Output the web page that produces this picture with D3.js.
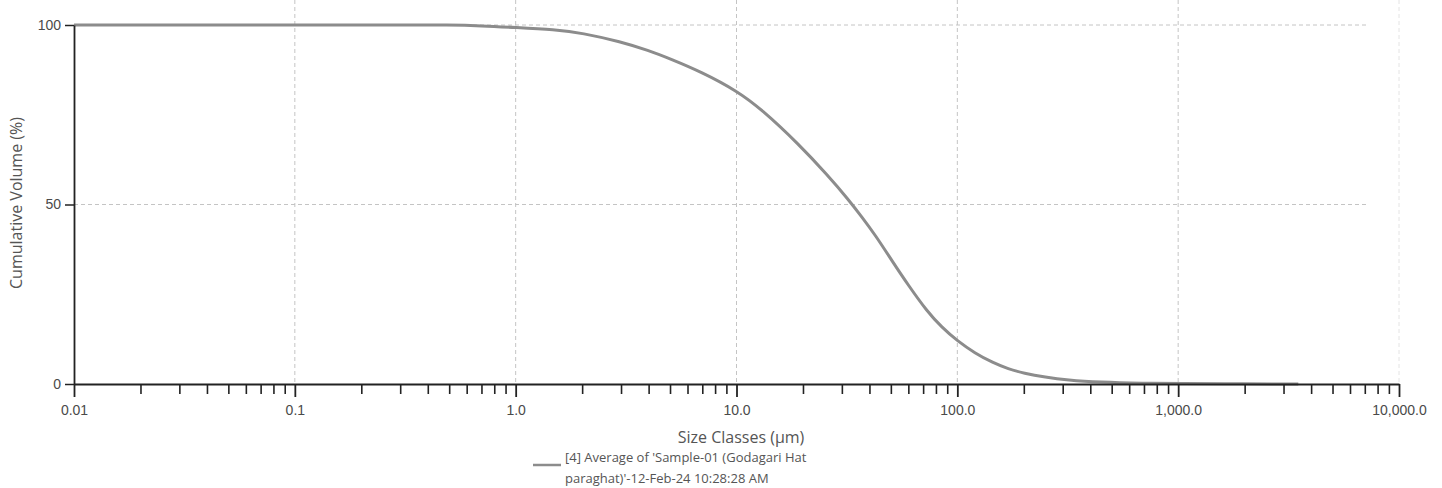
<!DOCTYPE html>
<html>
<head>
<meta charset="utf-8">
<script src="https://cdn.jsdelivr.net/npm/d3@7"></script>
<style>
  body { margin: 0; background: #fff; }
  svg { display: block; font-family: "Open Sans", "Noto Sans", sans-serif; }
</style>
</head>
<body>
<script>
// particle size (um) and cumulative volume (%)
var sizes = [0.01, 0.1, 0.3, 0.5, 0.7, 1.0, 1.5, 2.0, 3.0, 4.0, 5.0, 7.0, 10, 13, 19, 26, 32, 37, 42.5, 51, 60, 73, 85, 100, 120, 145, 170, 200, 250, 315, 440, 700, 1000, 2000, 3500];
var cumVolume = [100, 100, 100, 100, 99.8, 99.3, 98.7, 97.8, 95.3, 92.9, 90.6, 86.8, 81.7, 76.5, 67, 58, 51.5, 46.5, 41.5, 34, 27.5, 20.2, 15.8, 12, 8.6, 5.9, 4.2, 3.0, 1.9, 1.1, 0.5, 0.2, 0.1, 0.05, 0];
var xMajor = [0.01, 0.1, 1, 10, 100, 1000, 10000];
var xMajorLabels = ["0.01", "0.1", "1.0", "10.0", "100.0", "1,000.0", "10,000.0"];
var yTicks = [0, 50, 100];
var yGrid = [50, 100];
var legendLines = ["[4] Average of 'Sample-01 (Godagari Hat", "paraghat)'-12-Feb-24 10:28:28 AM"];

var W = 1442, H = 488;
var x0 = 74, x1 = 1399, yTop = 25, yBot = 384;

var svg = d3.select("body").append("svg")
    .attr("width", W)
    .attr("height", H);

var x = d3.scaleLog().domain([0.01, 10000]).range([x0, x1]);
var y = d3.scaleLinear().domain([0, 100]).range([yBot, yTop]);

// minor ticks 2..9 in every decade
var xMinor = [];
for (var d = 0; d < xMajor.length - 1; d++) {
    for (var m = 2; m <= 9; m++) {
        xMinor.push(xMajor[d] * m);
    }
}

// grid
svg.append("g").selectAll("line")
    .data(xMajor.slice(1))
    .enter().append("line")
    .attr("x1", function(v) { return x(v); })
    .attr("x2", function(v) { return x(v); })
    .attr("y1", 0)
    .attr("y2", yBot)
    .attr("stroke", function(v) { return v == 10000 ? "#e4e4e4" : "#c4c4c4"; })
    .attr("stroke-width", 1)
    .attr("stroke-dasharray", "4,3");

svg.append("g").selectAll("line")
    .data(yGrid)
    .enter().append("line")
    .attr("x1", x0)
    .attr("x2", 1368)
    .attr("y1", function(v) { return y(v); })
    .attr("y2", function(v) { return y(v); })
    .attr("stroke", "#c4c4c4")
    .attr("stroke-width", 1)
    .attr("stroke-dasharray", "4,3");

// curve
var line = d3.line()
    .x(function(d, i) { return x(sizes[i]); })
    .y(function(d) { return y(d); })
    .curve(d3.curveBasis);

svg.append("path")
    .datum(cumVolume)
    .attr("fill", "none")
    .attr("stroke", "#8c8c8c")
    .attr("stroke-width", 3)
    .attr("d", line);

// x axis: minor then major
var gxMinor = svg.append("g")
    .attr("transform", "translate(0," + yBot + ")")
    .call(d3.axisBottom(x).tickValues(xMinor).tickSize(10).tickFormat(""));
gxMinor.select(".domain").remove();
gxMinor.selectAll("line").attr("stroke", "#222").attr("stroke-width", 1.6);

var gx = svg.append("g")
    .attr("transform", "translate(0," + yBot + ")")
    .call(d3.axisBottom(x).tickValues(xMajor).tickSize(13).tickSizeOuter(0).tickPadding(8)
        .tickFormat(function(v, i) { return xMajorLabels[i]; }));
gx.select(".domain").attr("stroke", "#222").attr("stroke-width", 1.8);
gx.selectAll("line").attr("stroke", "#222").attr("stroke-width", 1.8);
gx.selectAll("text").attr("fill", "#4a4a4a").attr("font-size", 14);

// y axis
var gy = svg.append("g")
    .attr("transform", "translate(" + x0 + ",0)")
    .call(d3.axisLeft(y).tickValues(yTicks).tickSize(9).tickSizeOuter(0).tickPadding(4));
gy.select(".domain").attr("stroke", "#222").attr("stroke-width", 1.8);
gy.selectAll("line").attr("stroke", "#222").attr("stroke-width", 1.5);
gy.selectAll("text").attr("fill", "#4a4a4a").attr("font-size", 14);

// titles
svg.append("text")
    .attr("transform", "translate(22," + 203 + ") rotate(-90)")
    .attr("text-anchor", "middle")
    .attr("font-size", 16)
    .attr("fill", "#555")
    .text("Cumulative Volume (%)");

svg.append("text")
    .attr("x", 741)
    .attr("y", 443)
    .attr("text-anchor", "middle")
    .attr("font-size", 16)
    .attr("fill", "#555")
    .text("Size Classes (\u00b5m)");

// legend
svg.append("line")
    .attr("x1", 533).attr("x2", 561)
    .attr("y1", 465).attr("y2", 465)
    .attr("stroke", "#8c8c8c")
    .attr("stroke-width", 2.5);

svg.append("g").selectAll("text")
    .data(legendLines)
    .enter().append("text")
    .attr("x", 565)
    .attr("y", function(d, i) { return 462 + i * 21; })
    .attr("font-size", 13)
    .attr("fill", "#555")
    .text(function(d) { return d; });
</script>
</body>
</html>
